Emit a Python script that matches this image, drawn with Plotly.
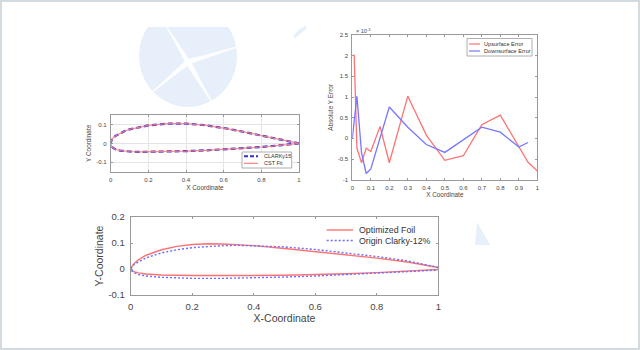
import plotly.graph_objects as go

W, H = 640, 350
FONT = "Liberation Sans"

# ---------------- data: panel 1 (CLARKy15 vs CST fit) ----------------
clark_x_up = [1.0, 0.9, 0.8, 0.7, 0.6, 0.5, 0.4, 0.3, 0.2, 0.15, 0.1, 0.075, 0.05, 0.025, 0.0125, 0.005, 0.0]
clark_y_up = [0.0, 0.022, 0.043, 0.063, 0.082, 0.097, 0.106, 0.105, 0.096, 0.087, 0.075, 0.066, 0.055, 0.040, 0.029, 0.018, 0.0]
clark_x_lo = [0.0, 0.005, 0.0125, 0.025, 0.05, 0.075, 0.1, 0.15, 0.2, 0.3, 0.4, 0.5, 0.6, 0.7, 0.8, 0.9, 1.0]
clark_y_lo = [0.0, -0.015, -0.024, -0.031, -0.038, -0.041, -0.043, -0.045, -0.045, -0.044, -0.041, -0.037, -0.032, -0.026, -0.019, -0.010, 0.0]
cst_x = clark_x_up + clark_x_lo
cst_y = clark_y_up + clark_y_lo
p1_xticks = [0, 0.2, 0.4, 0.6, 0.8, 1]
p1_xtext = ["0", "0.2", "0.4", "0.6", "0.8", "1"]
p1_yticks = [-0.1, 0, 0.1]
p1_ytext = ["-0.1", "0", "0.1"]

# ---------------- data: panel 2 (absolute Y error, x 10^-3) ----------------
up_x = [0.01, 0.025, 0.05, 0.075, 0.1, 0.15, 0.2, 0.3, 0.4, 0.5, 0.6, 0.7, 0.8, 0.9, 0.95, 1.0]
up_err = [2.03, -0.24, -0.59, -0.24, -0.32, 0.29, -0.59, 1.02, 0.08, -0.53, -0.42, 0.33, 0.56, -0.2, -0.58, -0.79]
down_x = [0.0, 0.025, 0.05, 0.075, 0.1, 0.2, 0.3, 0.4, 0.5, 0.6, 0.7, 0.8, 0.9, 0.95]
down_err = [0.0, 1.02, -0.35, -0.85, -0.74, 0.76, 0.27, -0.15, -0.34, -0.04, 0.27, 0.15, -0.21, -0.10]
p2_xticks = [0, 0.1, 0.2, 0.3, 0.4, 0.5, 0.6, 0.7, 0.8, 0.9, 1]
p2_xtext = ["0", "0.1", "0.2", "0.3", "0.4", "0.5", "0.6", "0.7", "0.8", "0.9", "1"]
p2_yticks = [-1, -0.5, 0, 0.5, 1, 1.5, 2, 2.5]
p2_ytext = ["-1", "-0.5", "0", "0.5", "1", "1.5", "2", "2.5"]

# ---------------- data: panel 3 (optimized vs origin) ----------------
opt_x_up = [1.0, 0.9, 0.8, 0.7, 0.6, 0.5, 0.4, 0.35, 0.3, 0.25, 0.2, 0.15, 0.1, 0.05, 0.025, 0.0125, 0.005, 0.0]
opt_y_up = [0.006, 0.027, 0.042, 0.055, 0.068, 0.079, 0.090, 0.094, 0.096, 0.097, 0.094, 0.087, 0.074, 0.053, 0.035, 0.022, 0.012, 0.0]
opt_x_lo = [0.0, 0.005, 0.0125, 0.025, 0.05, 0.1, 0.2, 0.3, 0.4, 0.5, 0.6, 0.7, 0.8, 0.9, 1.0]
opt_y_lo = [0.0, -0.007, -0.011, -0.015, -0.019, -0.023, -0.025, -0.026, -0.025, -0.024, -0.022, -0.018, -0.014, -0.009, -0.002]
ori_x_up = [1.0, 0.9, 0.8, 0.7, 0.6, 0.5, 0.4, 0.35, 0.3, 0.25, 0.2, 0.15, 0.1, 0.05, 0.025, 0.0125, 0.005, 0.0]
ori_y_up = [0.006, 0.031, 0.048, 0.062, 0.075, 0.085, 0.090, 0.091, 0.090, 0.087, 0.082, 0.074, 0.062, 0.043, 0.029, 0.019, 0.010, 0.0]
ori_x_lo = [0.0, 0.005, 0.0125, 0.025, 0.05, 0.1, 0.15, 0.2, 0.3, 0.4, 0.5, 0.6, 0.7, 0.8, 0.9, 1.0]
ori_y_lo = [0.0, -0.009, -0.015, -0.021, -0.027, -0.032, -0.035, -0.036, -0.036, -0.034, -0.031, -0.027, -0.022, -0.016, -0.010, -0.004]
p3_xticks = [0, 0.2, 0.4, 0.6, 0.8, 1]
p3_xtext = ["0", "0.2", "0.4", "0.6", "0.8", "1"]
p3_yticks = [-0.1, 0, 0.1, 0.2]
p3_ytext = ["-0.1", "0", "0.1", "0.2"]

# colours
RED1, BLUE1 = "#ff7f86", "#2f2fd6"
RED2, BLUE2 = "#ff7373", "#7777ff"
RED3, BLUE3 = "#ff7272", "#6c6cff"
AX = "#9a9a9a"
TXT = "#454545"


def px(x):
    return x / W


def py(y):
    return 1 - y / H


fig = go.Figure()

# panel 1
fig.add_trace(go.Scatter(x=clark_x_up + clark_x_lo, y=clark_y_up + clark_y_lo, mode="lines",
                         line=dict(color=BLUE1, width=2.2, dash="5px,3px"), name="CLARKy15",
                         xaxis="x", yaxis="y", showlegend=False))
fig.add_trace(go.Scatter(x=cst_x, y=cst_y, mode="lines", line=dict(color=RED1, width=1.2),
                         name="CST Fit", xaxis="x", yaxis="y", showlegend=False, opacity=0.9))
# panel 2
fig.add_trace(go.Scatter(x=up_x, y=up_err, mode="lines", line=dict(color=RED2, width=1.3),
                         name="Upsurface Error", xaxis="x2", yaxis="y2", showlegend=False))
fig.add_trace(go.Scatter(x=down_x, y=down_err, mode="lines", line=dict(color=BLUE2, width=1.3),
                         name="Downsurface Error", xaxis="x2", yaxis="y2", showlegend=False))
# panel 3
fig.add_trace(go.Scatter(x=opt_x_up + opt_x_lo, y=opt_y_up + opt_y_lo, mode="lines",
                         line=dict(color=RED3, width=1.4), name="Optimized Foil",
                         xaxis="x3", yaxis="y3", showlegend=False))
fig.add_trace(go.Scatter(x=ori_x_up + ori_x_lo, y=ori_y_up + ori_y_lo, mode="lines",
                         line=dict(color=BLUE3, width=1.4, dash="2px,2px"), name="Origin Clarky-12%",
                         xaxis="x3", yaxis="y3", showlegend=False))


def axis(domain, rng, tv, tt, size, title, tsize, standoff, anchor, grid=False, lstand=2):
    return dict(domain=domain, range=rng, tickvals=tv, ticktext=tt, showline=True, linecolor=AX,
                linewidth=1, mirror="allticks", ticks="inside", ticklen=2, tickcolor=AX,
                tickfont=dict(size=size, color=TXT, family=FONT), showgrid=grid,
                gridcolor="#e4e4e4", gridwidth=1, zeroline=False, automargin=False,
                anchor=anchor, ticklabelstandoff=lstand,
                title=dict(text=title, font=dict(size=tsize, color=TXT, family=FONT), standoff=standoff))


layout = dict(
    width=W, height=H, margin=dict(l=0, r=0, t=0, b=0),
    paper_bgcolor="white", plot_bgcolor="rgba(0,0,0,0)",
    font=dict(family=FONT, color=TXT),
    xaxis=axis([px(110.7), px(299)], [0, 1], p1_xticks, p1_xtext, 6, "X Coordinate", 6.4, 3, "y", grid=True),
    yaxis=axis([py(172), py(114.7)], [-0.152, 0.153], p1_yticks, p1_ytext, 6, "Y Coordinate", 6.4, 3, "x", grid=True),
    xaxis2=axis([px(352.3), px(537.3)], [0, 1], p2_xticks, p2_xtext, 6, "X Coordinate", 6.4, 2, "y2"),
    yaxis2=axis([py(179.7), py(35)], [-1, 2.5], p2_yticks, p2_ytext, 6, "Absolute Y Error", 6.4, 3, "x2"),
    xaxis3=axis([px(130.7), px(438.3)], [0, 1], p3_xticks, p3_xtext, 9.5, "X-Coordinate", 10.5, 0, "y3", lstand=3),
    yaxis3=axis([py(295), py(217)], [-0.1, 0.2], p3_yticks, p3_ytext, 9.5, "Y-Coordinate", 10.5, 2, "x3", lstand=3),
)
fig.update_layout(**layout)

shapes = []
annots = []
WM = "#e7f0fa"

# watermark (decorative logo)
shapes.append(dict(type="circle", xref="paper", yref="paper", x0=px(139), x1=px(237), y0=py(107), y1=py(5),
                   fillcolor=WM, line=dict(width=0), layer="below"))
shapes.append(dict(type="rect", xref="paper", yref="paper", x0=px(120), x1=px(260), y0=py(27), y1=py(0),
                   fillcolor="white", line=dict(width=0), layer="below"))
cx, cy = 188, 62
for (tx, ty, hw) in [(165, 24, 2.0), (240, 46, 2.2), (150, 94, 2.4), (214, 106, 2.4)]:
    dx, dy = tx - cx, ty - cy
    L = (dx * dx + dy * dy) ** 0.5
    nx, ny = -dy / L * hw, dx / L * hw
    path = "M {} {} L {} {} L {} {} Z".format(px(cx + nx), py(cy + ny), px(cx - nx), py(cy - ny), px(tx), py(ty))
    shapes.append(dict(type="path", xref="paper", yref="paper", path=path, fillcolor="white",
                       line=dict(color="white", width=0.8), layer="below"))
shapes.append(dict(type="path", xref="paper", yref="paper",
                   path="M {} {} L {} {} L {} {} Z".format(px(306), py(27), px(294), py(37), px(300), py(31)),
                   fillcolor=WM, line=dict(color=WM, width=3), layer="below"))
shapes.append(dict(type="path", xref="paper", yref="paper",
                   path="M {} {} L {} {} L {} {} Z".format(px(477), py(222), px(475), py(245), px(490), py(245)),
                   fillcolor=WM, line=dict(width=0), layer="below"))


def legend_box(x0, y0, x1, y1):
    shapes.append(dict(type="rect", xref="paper", yref="paper", x0=px(x0), x1=px(x1), y0=py(y1), y1=py(y0),
                       fillcolor="white", line=dict(color="#9a9a9a", width=0.8)))


def legend_item(xs0, xs1, xt, yrow, color, width, dash, text, size):
    shapes.append(dict(type="line", xref="paper", yref="paper", x0=px(xs0), x1=px(xs1), y0=py(yrow), y1=py(yrow),
                       line=dict(color=color, width=width, dash=dash)))
    annots.append(dict(xref="paper", yref="paper", x=px(xt), y=py(yrow), text=text, showarrow=False,
                       xanchor="left", yanchor="middle", font=dict(size=size, color="#333333", family=FONT)))


legend_box(242, 152, 291.7, 168)
legend_item(244, 258, 262, 156.3, BLUE1, 2, "4px,2px", "CLARKy15", 5.5)
legend_item(244, 258, 262, 163.3, RED1, 1.2, "solid", "CST Fit", 5.5)

legend_box(467, 38.5, 532, 56)
legend_item(469, 480, 482, 44, RED2, 1.2, "solid", "Upsurface Error", 5.6)
legend_item(469, 480, 482, 51, BLUE2, 1.2, "solid", "Downsurface Error", 5.6)

legend_item(326.7, 353, 356.5, 230, RED3, 1.4, "solid", "Optimized Foil", 8.8)
legend_item(326.7, 353, 356.5, 240.5, BLUE3, 1.4, "2px,2px", "Origin Clarky-12%", 8.8)

# exponent label of panel 2
annots.append(dict(xref="paper", yref="paper", x=px(354), y=py(31), text="× 10<sup>-3</sup>", showarrow=False,
                   xanchor="left", yanchor="middle", font=dict(size=5.5, color=TXT, family=FONT)))

# outer frame
shapes.append(dict(type="rect", xref="paper", yref="paper", x0=px(1), x1=px(639), y0=py(349), y1=py(1),
                   line=dict(color="#d3dbe1", width=2), fillcolor="rgba(0,0,0,0)"))

fig.update_layout(shapes=shapes, annotations=annots)
fig.write_html("out.html")
